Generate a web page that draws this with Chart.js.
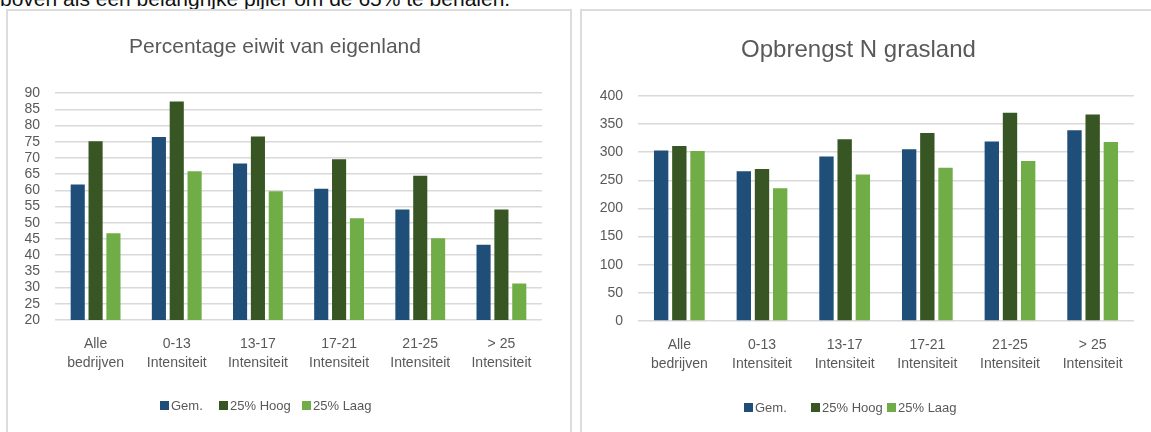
<!DOCTYPE html>
<html>
<head>
<meta charset="utf-8">
<script src="https://cdn.jsdelivr.net/npm/chart.js@4"></script>
<style>
  body { margin: 0; background: #fff; width: 1151px; height: 432px; overflow: hidden; position: relative; font-family: 'Liberation Sans', Arial, sans-serif; }
  .intro { position: absolute; left: 0; top: -12px; font-size: 21px; line-height: 21px; color: #111; white-space: nowrap; }
  .panel { position: absolute; border: 2px solid #dcdcdc; background: #fff; }
  canvas { position: absolute; }
  .leg { position: absolute; display: flex; align-items: center; height: 16px; font-size: 13px; color: #595959; white-space: nowrap; }
  .leg i { display: inline-block; width: 9px; height: 9px; margin-right: 2px; }
</style>
</head>
<body>
<div class="intro">boven als een belangrijke pijler om de 65% te behalen.</div>
<div class="panel" style="left:6px; top:9px; width:562px; height:440px;"></div>
<div class="panel" style="left:580px; top:9px; width:600px; height:440px;"></div>
<canvas id="eiwitChart" width="563" height="421" style="left:8px; top:11px;"></canvas>
<canvas id="opbrengstChart" width="568" height="421" style="left:583px; top:11px;"></canvas>
<div id="legends"></div>

<script>
// Categories (two-line labels)
const categories = [
  ["Alle", "bedrijven"],
  ["0-13", "Intensiteit"],
  ["13-17", "Intensiteit"],
  ["17-21", "Intensiteit"],
  ["21-25", "Intensiteit"],
  ["> 25", "Intensiteit"]
];
const seriesNames = ["Gem.", "25% Hoog", "25% Laag"];
const seriesColors = ["#1F4E79", "#375623", "#70AD47"];

// Percentage eiwit van eigenland
const eiwitGem = [61.8, 76.5, 68.3, 60.5, 54.1, 43.2];
const eiwitHoog = [75.2, 87.4, 76.6, 69.6, 64.5, 54.1];
const eiwitLaag = [46.8, 65.9, 59.7, 51.4, 45.2, 31.3];

// Opbrengst N grasland
const opbrengstGem = [303, 266, 292, 305, 319, 339];
const opbrengstHoog = [311, 270, 323, 334, 370, 367];
const opbrengstLaag = [302, 236, 260, 272, 284, 318];

Chart.defaults.font.family = "'Liberation Sans', Arial, sans-serif";
Chart.defaults.color = "#595959";

function makeChart(id, title, titleSize, titlePad, values, yMin, yMax, step, yWidth, rightPad, xHeight) {
  return new Chart(document.getElementById(id), {
    type: "bar",
    data: {
      labels: categories,
      datasets: values.map((v, i) => ({
        label: seriesNames[i],
        data: v,
        backgroundColor: seriesColors[i],
        borderWidth: 0,
        categoryPercentage: 0.66,
        barPercentage: 0.79
      }))
    },
    options: {
      responsive: false,
      animation: false,
      layout: { padding: { left: 0, right: rightPad, top: 0, bottom: 0 } },
      plugins: {
        legend: { display: false },
        tooltip: { enabled: false },
        title: {
          display: true,
          text: title,
          color: "#595959",
          font: { size: titleSize, weight: "normal" },
          padding: titlePad
        }
      },
      scales: {
        x: {
          grid: { display: false },
          border: { display: false },
          ticks: { font: { size: 14, lineHeight: 1.35 }, padding: 7, maxRotation: 0, autoSkip: false },
          afterFit: (s) => { s.height = xHeight; }
        },
        y: {
          min: yMin,
          max: yMax,
          grid: { color: "#d9d9d9", lineWidth: 1.5, drawTicks: false },
          border: { display: false },
          ticks: { stepSize: step, font: { size: 14 }, padding: 15, autoSkip: false },
          afterFit: (s) => { s.width = yWidth; }
        }
      }
    }
  });
}

makeChart("eiwitChart", "Percentage eiwit van eigenland", 21, { top: 24, bottom: 33 },
  [eiwitGem, eiwitHoog, eiwitLaag], 20, 90, 5, 47, 29, 112);
makeChart("opbrengstChart", "Opbrengst N grasland", 24, { top: 25, bottom: 31 },
  [opbrengstGem, opbrengstHoog, opbrengstLaag], 0, 400, 50, 55, 17, 111);

// Legends, Excel style under each chart
const legendSpots = [
  { xs: [160, 219, 302], y: 405.5 },
  { xs: [744, 811, 887], y: 407 }
];
const legendsDiv = document.getElementById("legends");
legendSpots.forEach((spot) => {
  spot.xs.forEach((x, i) => {
    const item = document.createElement("div");
    item.className = "leg";
    item.style.left = x + "px";
    item.style.top = (spot.y - 8) + "px";
    item.innerHTML = `<i style="background:${seriesColors[i]}"></i>${seriesNames[i]}`;
    legendsDiv.appendChild(item);
  });
});
</script>
</body>
</html>
